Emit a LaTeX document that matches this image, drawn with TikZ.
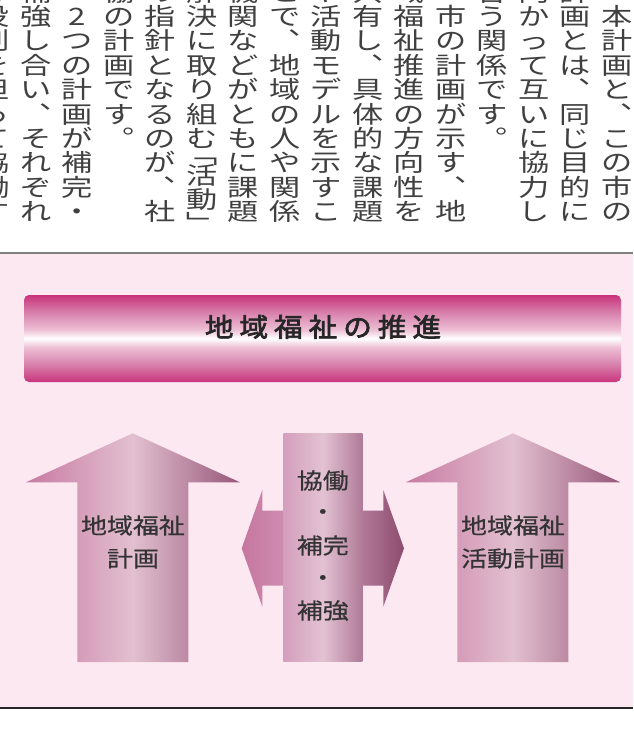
\documentclass[tikz,border=0pt]{standalone}
\usepackage{fontspec}
\newfontfamily\jpv[FakeStretch=1.3]{Noto Sans CJK JP}
\newfontfamily\jpm[FakeStretch=1.18,FakeBold=0.6]{Noto Sans CJK JP}
\newfontfamily\jpt[FakeStretch=1.1,FakeBold=2.6]{Noto Sans CJK JP}
\definecolor{bgpink}{RGB}{252,232,241}
\definecolor{bm}{RGB}{200,52,124}
\definecolor{bmA}{RGB}{216,128,172}
\definecolor{bmB}{RGB}{237,192,213}
\definecolor{aL}{RGB}{200,122,162}
\definecolor{aM}{RGB}{226,192,208}
\definecolor{aR}{RGB}{150,86,120}
\definecolor{bL}{RGB}{212,158,188}
\definecolor{bM}{RGB}{226,194,210}
\definecolor{bR}{RGB}{176,122,152}
\definecolor{hL}{RGB}{198,118,160}
\definecolor{hM}{RGB}{214,162,190}
\definecolor{hR}{RGB}{140,76,110}
\definecolor{tx}{RGB}{51,51,51}
\definecolor{vtx}{RGB}{64,64,64}
\pgfdeclareverticalshading{bannershade}{100bp}{color(0bp)=(bm); color(25bp)=(bm); color(35bp)=(bmA); color(45bp)=(bmB); color(50bp)=(white); color(55bp)=(bmB); color(65bp)=(bmA); color(75bp)=(bm); color(100bp)=(bm)}
\tikzset{
  vch/.style={inner sep=0pt, text=vtx, font=\jpv\fontsize{24}{24}\selectfont, text height=0.88em, text depth=0.12em},
  halfch/.style={vch, text height=0.34em, text depth=0.1em},
  midtxt/.style={inner sep=0pt, text=tx, font=\jpm\fontsize{22}{22}\selectfont, text height=0.88em, text depth=0.12em},
  titlech/.style={inner sep=0pt, text=black!85, font=\jpt\fontsize{26}{26}\selectfont, text height=0.88em, text depth=0.12em},
  arrowshade/.style={left color=aL, right color=aR, middle color=aM},
  barshade/.style={left color=bL, right color=bR, middle color=bM},
  hshade/.style={left color=hL, right color=hR, middle color=hM}
}
\newcommand\vcol[4]{%
  \foreach \ch [count=\k from 0] in {#4} {%
    \node[vch] (v#1-\k) at (#2, {-2.7+24.4*(#3+\k)}) {\ch};}}
\begin{document}
\begin{tikzpicture}[x=1pt,y=-1pt]
\useasboundingbox (0,0) rectangle (633,733);
\clip (0,0) rectangle (633,733);
% vertical text
\vcol{1}{617}{1}{本,計,画,と,︑,こ,の,市,の}
\vcol{2}{575.5}{0}{計,画,と,は,︑,同,じ,目,的,に}
\vcol{3}{534}{0}{向,か,っ,て,互,い,に,協,力,し}
\vcol{4}{492.5}{0}{合,う,関,係,で,す,︒}
\vcol{5}{451}{1}{市,の,計,画,が,示,す,︑,地}
\vcol{6}{409.5}{0}{域,福,祉,推,進,の,方,向,性,を}
\vcol{7}{368}{0}{共,有,し,︑,具,体,的,な,課,題}
\vcol{8}{326.5}{0}{や,活,動,モ,デ,ル,を,示,す,こ}
\vcol{9}{285}{0}{と,で,︑,地,域,の,人,や,関,係}
\vcol{10}{243.5}{0}{機,関,な,ど,が,と,も,に,課,題}
\vcol{11}{202}{0}{解,決,に,取,り,組,む}
\node[halfch] (v11-b1) at (202,162) {﹁};
\node[vch] (v11-a) at (202,180.3) {活};
\node[vch] (v11-b) at (202,204.7) {動};
\node[vch] (v11-b2) at (202,229.1) {﹂};
\vcol{12}{160.5}{0}{の,指,針,と,な,る,の,が,︑,社}
\vcol{13}{119}{0}{協,の,計,画,で,す,︒}
\vcol{14}{77.5}{1}{2,つ,の,計,画,が,補,完,・}
\vcol{15}{36}{0}{補,強,し,合,い,︑,そ,れ,ぞ,れ}
\vcol{16}{-5.5}{0}{の,役,割,を,担,っ,て,協,働,す}
% background panel
\fill[bgpink] (0,254) rectangle (633,707);
\draw[line width=2pt, black!50] (0,253) -- (633,253);
\draw[line width=2pt, black!85] (0,707.5) -- (633,707.5);
% banner
\shade[shading=bannershade, rounded corners=5pt] (24,295) rectangle (621,382);
\foreach \ch [count=\k] in {地,域,福,祉,の,推,進}
  \node[titlech] (t\k) at ({323+(\k-4)*34.6},333) {\ch};
% left arrow
\shade[arrowshade] (77.3,662) -- (77.3,482.3) -- (26,482.3) -- (132.7,433.3) -- (240,482.3) -- (188.3,482.3) -- (188.3,662) -- cycle;
% right arrow
\shade[arrowshade] (457.4,662) -- (457.4,482.3) -- (405.7,482.3) -- (513,433.3) -- (620.5,482.3) -- (568.4,482.3) -- (568.4,662) -- cycle;
% double horizontal arrow
\shade[hshade] (241.7,548.3) -- (262.3,490) -- (262.3,510.7) -- (383.3,510.7) -- (383.3,490) -- (404,548.3) -- (383.3,606.7) -- (383.3,585.7) -- (262.3,585.7) -- (262.3,606.7) -- cycle;
% middle bar
\shade[barshade] (283.3,433.3) rectangle (362.3,661.7);
% labels
\node[midtxt] (la1) at (133,530) {地域福祉};
\node[midtxt] (la2) at (133,563) {計画};
\node[midtxt] (ra1) at (513,530) {地域福祉};
\node[midtxt] (ra2) at (513,563) {活動計画};
\node[midtxt] (m1) at (322.8,485) {協働};
\node[midtxt] (m2) at (322.8,516) {・};
\node[midtxt] (m3) at (322.8,550) {補完};
\node[midtxt] (m4) at (322.8,582) {・};
\node[midtxt] (m5) at (322.8,615) {補強};
\end{tikzpicture}
\end{document}
